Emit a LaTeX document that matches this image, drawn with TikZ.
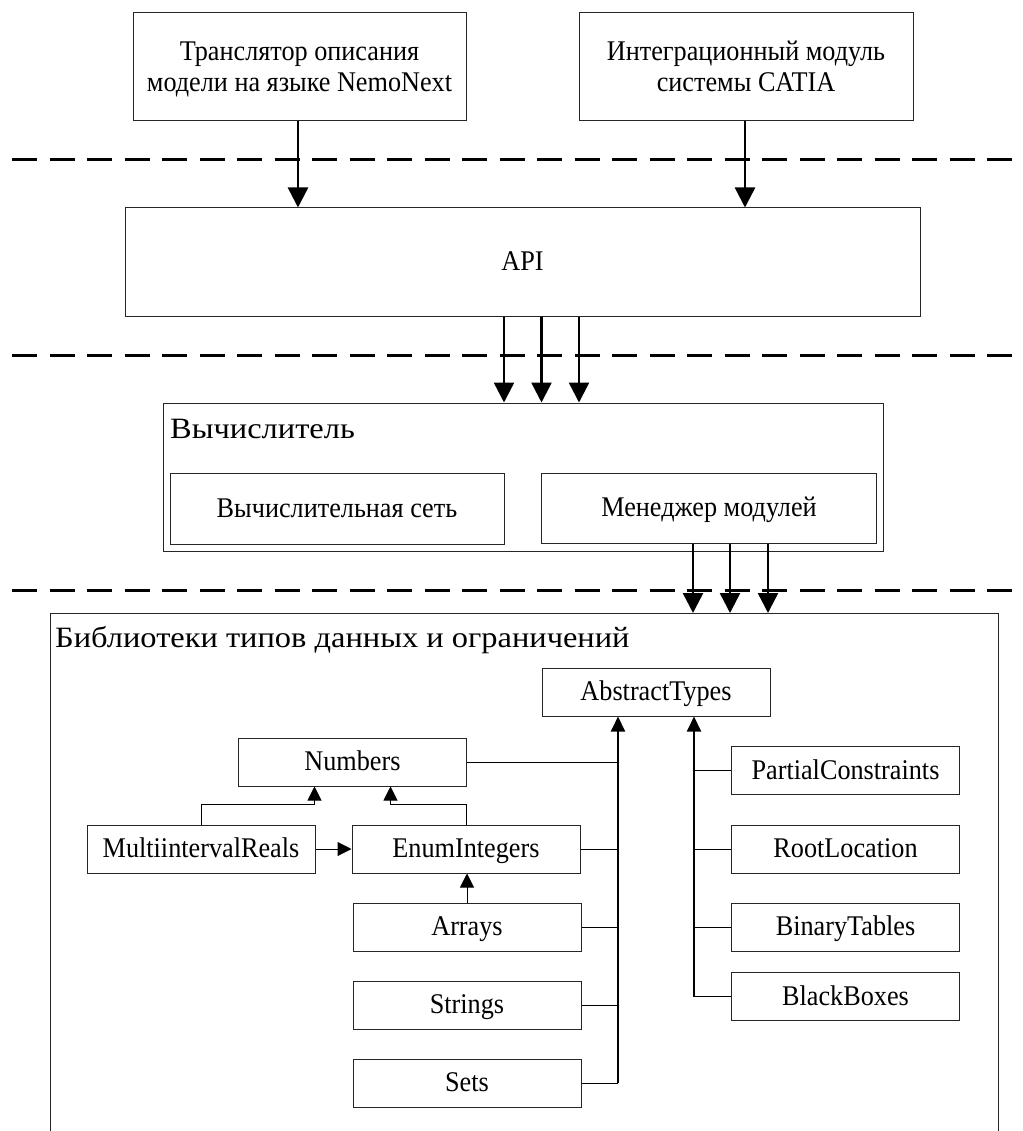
\documentclass[tikz,border=0pt]{standalone}
\usepackage{fontspec}
\setmainfont{Liberation Serif}
\newfontfamily\boxfont{Liberation Serif}[FakeStretch=0.92]
\newfontfamily\titlefont{Liberation Serif}[FakeStretch=1.1]
\usetikzlibrary{arrows.meta}
\begin{document}
\begin{tikzpicture}[x=1pt,y=-1pt,
  box/.style={draw=black!85,line width=1pt,rectangle,inner sep=0pt,align=center,
    text height=17.4pt,text depth=0pt,
    font=\boxfont\fontsize{28.5}{31.5}\selectfont},
  twoline/.style={text height=50pt},
  ttl/.style={inner sep=0pt,font=\titlefont\fontsize{29.5}{34}\selectfont},
  bigarrow/.style={line width=2.5pt,-{Triangle[length=20pt,width=20pt]}},
  dashline/.style={line width=3pt,dash pattern=on 25pt off 12.5pt},
  link/.style={line width=1pt},
  smallarrow/.style={line width=1pt,-{Triangle[length=14pt,width=14pt]}},
  busarrow/.style={line width=2pt,-{Triangle[length=15pt,width=14pt]}}]
\useasboundingbox (0,0) rectangle (1022,1131);

% top modules
\node[box,twoline,minimum width=333pt,minimum height=108pt] (trans) at (299.5,67)
  {Транслятор описания\\модели на языке NemoNext};
\node[box,twoline,minimum width=334pt,minimum height=108pt] (catia) at (746,67)
  {Интеграционный модуль\\системы CATIA};
\node[box,minimum width=795pt,minimum height=108pt] (api) at (522.5,262) {API};

% calculator
\node[box,minimum width=720pt,minimum height=148pt] (calc) at (523,477) {};
\node[ttl,anchor=base west] (calcTitle) at (170,438) {Вычислитель};
\node[box,minimum width=334pt,minimum height=71pt] (net) at (337,508.5) {Вычислительная сеть};
\node[box,minimum width=335pt,minimum height=70pt] (mgr) at (709,508) {Менеджер модулей};

% libraries frame (open at bottom)
\coordinate (libTL) at (50,613);
\coordinate (libTR) at (998,613);
\draw[draw=black!85,line width=1pt] (50,1131) -- (libTL) -- (libTR) -- (998,1131);
\node[ttl,anchor=base west] (libTitle) at (55,647) {Библиотеки типов данных и ограничений};

% dashed layer separators
\coordinate (d1L) at (12,160); \coordinate (d1R) at (1022,160);
\coordinate (d2L) at (12,355); \coordinate (d2R) at (1022,355);
\coordinate (d3L) at (12,590); \coordinate (d3R) at (1022,590);
\draw[dashline] (d1L) -- (d1R);
\draw[dashline] (d2L) -- (d2R);
\draw[dashline] (d3L) -- (d3R);

% library boxes
\tikzset{lb/.style={box,minimum width=228pt,minimum height=48pt}}
\node[lb] (abstract) at (656,692) {AbstractTypes};
\node[lb] (numbers) at (352.5,762) {Numbers};
\node[lb] (multi) at (201,849) {MultiintervalReals};
\node[lb] (enum) at (466,849) {EnumIntegers};
\node[lb] (arrays) at (467,927) {Arrays};
\node[lb] (strings) at (467,1005) {Strings};
\node[lb] (sets) at (467,1083) {Sets};
\node[lb] (partial) at (845.5,770.5) {PartialConstraints};
\node[lb] (root) at (845.5,849) {RootLocation};
\node[lb] (binary) at (845.5,927) {BinaryTables};
\node[lb] (black) at (845.5,996.5) {BlackBoxes};

% arrows between layers
\draw[bigarrow] ([xshift=-1.5pt]trans.south) -- ([xshift=-1.5pt]trans.south |- api.north);
\draw[bigarrow] ([xshift=-1pt]catia.south) -- ([xshift=-1pt]catia.south |- api.north);
\foreach \dx in {-18.5,19,56.5}
  \draw[bigarrow] ([xshift=\dx pt]api.south) -- ([xshift=\dx pt]api.south |- calc.north);
\foreach \dx in {-16,21,59}
  \draw[bigarrow] ([xshift=\dx pt]mgr.south) -- ([xshift=\dx pt]mgr.south |- libTL);

% library links
\coordinate (busL) at (618,1083);
\coordinate (busR) at (694,996);
\draw[link] (numbers.east) -- (numbers.east -| busL);
\draw[link] (enum.east) -- (enum.east -| busL);
\draw[link] (arrays.east) -- (arrays.east -| busL);
\draw[link] (strings.east) -- (strings.east -| busL);
\draw[link] (sets.east) -- (sets.east -| busL);
\draw[busarrow] (sets.east -| busL) -- (busL |- abstract.south);
\draw[link] (busR |- partial.west) -- (partial.west);
\draw[link] (busR |- root.west) -- (root.west);
\draw[link] (busR |- binary.west) -- (binary.west);
\draw[link] (busR |- black.west) -- (black.west);
\draw[busarrow] (black.west -| busR) -- (busR |- abstract.south);

\draw[smallarrow] (multi.north) -- ++(0,-20) -| ([xshift=-38pt]numbers.south);
\draw[smallarrow] (enum.north) -- ++(0,-20) -| ([xshift=38pt]numbers.south);
\draw[smallarrow] (multi.east) -- (enum.west);
\draw[smallarrow] (arrays.north) -- (arrays.north |- enum.south);
\end{tikzpicture}
\end{document}
